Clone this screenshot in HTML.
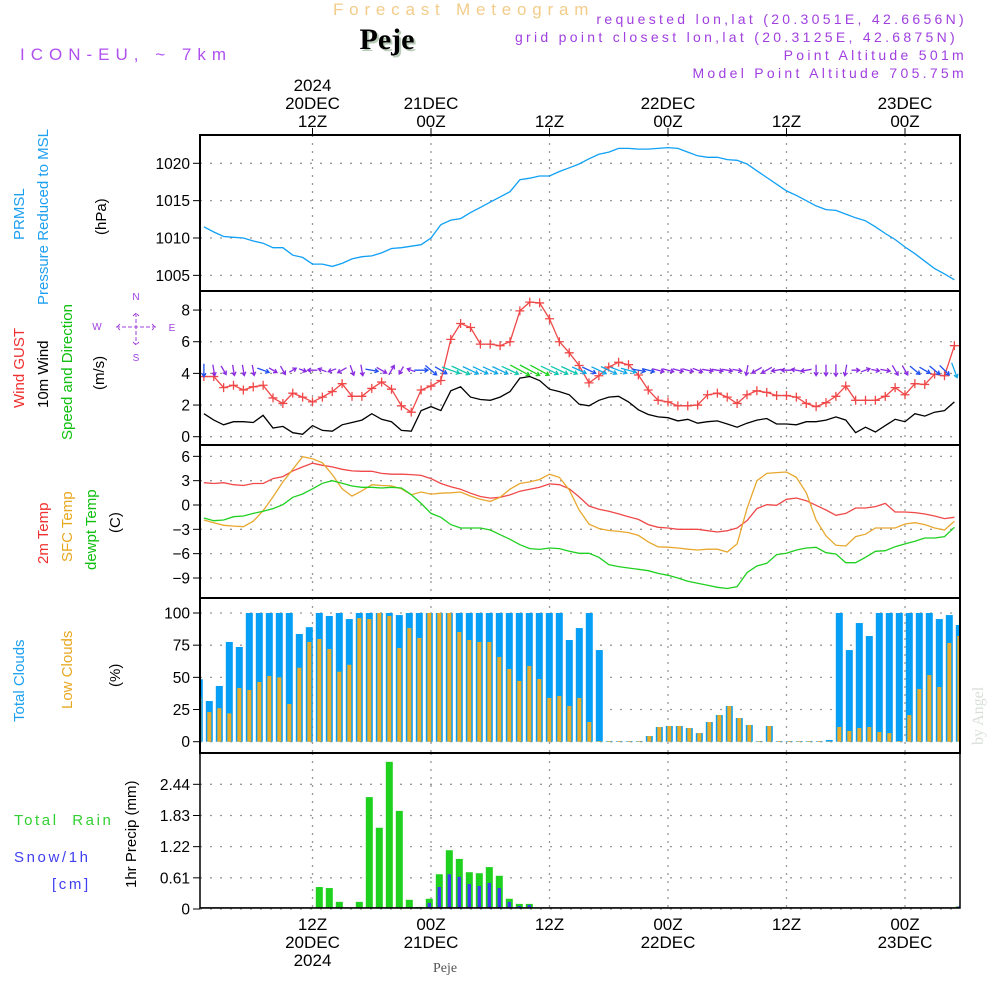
<!DOCTYPE html>
<html><head><meta charset="utf-8">
<style>
html,body{margin:0;padding:0;background:#fff;}
svg{display:block;font-family:"Liberation Sans",sans-serif;}
</style></head>
<body>
<svg id="chart" width="1000" height="1000" viewBox="0 0 1000 1000" xmlns="http://www.w3.org/2000/svg">
<rect x="0" y="0" width="1000" height="1000" fill="#fff"/>
<text x="333" y="15" font-size="17" fill="#f3cc8a" letter-spacing="5.8">Forecast Meteogram</text>
<text x="389" y="51" font-size="30" font-weight="bold" font-family="Liberation Serif,serif" fill="#b8ccb8" text-anchor="middle">Peje</text>
<text x="387" y="49" font-size="30" font-weight="bold" font-family="Liberation Serif,serif" fill="#000" text-anchor="middle">Peje</text>
<text x="20" y="60" font-size="17" fill="#b050f0" letter-spacing="6">ICON-EU, ~ 7km</text>
<g font-size="14" fill="#a040e0" text-anchor="end" letter-spacing="3.3">
<text x="967" y="24">requested lon,lat (20.3051E, 42.6656N)</text>
<text x="958" y="42">grid point closest lon,lat (20.3125E, 42.6875N)</text>
<text x="967" y="60">Point Altitude 501m</text>
<text x="967" y="78">Model Point Altitude 705.75m</text>
</g>
<g id="axes"></g>
<g id="marks"></g>
<g font-size="15">
<text transform="translate(24,240) rotate(-90)" fill="#1ea0f0">PRMSL</text>
<text transform="translate(48,305) rotate(-90)" fill="#1ea0f0">Pressure Reduced to MSL</text>
<text transform="translate(106,235) rotate(-90)" fill="#000">(hPa)</text>
<text transform="translate(24,408) rotate(-90)" fill="#f03030">Wind GUST</text>
<text transform="translate(48,408) rotate(-90)" fill="#000">10m Wind</text>
<text transform="translate(72,440) rotate(-90)" fill="#10c010">Speed and Direction</text>
<text transform="translate(104,390) rotate(-90)" fill="#000">(m/s)</text>
<text transform="translate(48,564) rotate(-90)" fill="#f03030">2m Temp</text>
<text transform="translate(72,562) rotate(-90)" fill="#e8a820">SFC Temp</text>
<text transform="translate(96,570) rotate(-90)" fill="#10c010">dewpt Temp</text>
<text transform="translate(120,533) rotate(-90)" fill="#000">(C)</text>
<text transform="translate(24,722) rotate(-90)" fill="#1ea0f0">Total Clouds</text>
<text transform="translate(72,709) rotate(-90)" fill="#e8a820">Low Clouds</text>
<text transform="translate(120,687) rotate(-90)" fill="#000">(%)</text>
<text transform="translate(136,888) rotate(-90)" fill="#000">1hr Precip (mm)</text>
<text x="14" y="825" fill="#30d030" letter-spacing="2.6" font-size="15" style="white-space:pre">Total  Rain</text>
<text x="14" y="862" fill="#4040f0" letter-spacing="2.6">Snow/1h</text>
<text x="52" y="889" fill="#4040f0" letter-spacing="2.6">[cm]</text>
</g>
<g fill="#a040e0" font-size="10" text-anchor="middle">
<text x="136" y="300">N</text>
<text x="97" y="330">W</text>
<text x="172" y="331">E</text>
<text x="136" y="361">S</text>
<path d="M116 327h40M136 313v32M120 324l-3 3 3 3M152 324l3 3-3 3M133 316l3-3 3 3M133 342l3 3 3-3" stroke="#a040e0" stroke-width="1" fill="none" stroke-dasharray="4 2"/>
</g>
<text transform="translate(983,745) rotate(-90)" font-family="Liberation Serif,serif" font-size="16" fill="#d8e0d8">by Angel</text>
<text x="445" y="972" font-family="Liberation Serif,serif" font-size="14" fill="#555" text-anchor="middle">Peje</text>
</svg>
<script>
const hours = [];
for (let h = 1; h <= 77; h++) hours.push(h);
const pressure = [1011.5,1010.8,1010.2,1010.1,1010.0,1009.6,1009.3,1008.7,1008.7,1007.7,1007.4,1006.5,1006.5,1006.2,1006.6,1007.2,1007.5,1007.6,1008.0,1008.6,1008.7,1008.9,1009.1,1010.0,1011.8,1012.4,1012.6,1013.4,1014.1,1014.8,1015.5,1016.2,1017.8,1018.0,1018.3,1018.3,1018.9,1019.4,1019.9,1020.6,1021.2,1021.5,1022.0,1022.0,1021.9,1021.9,1022.0,1022.1,1022.0,1021.5,1021.0,1020.8,1020.8,1020.5,1020.4,1019.9,1019.0,1018.1,1017.2,1016.3,1015.7,1015.0,1014.3,1013.8,1013.7,1013.2,1012.7,1012.3,1011.5,1010.6,1009.8,1008.8,1007.9,1006.9,1005.9,1005.2,1004.4];
const gust = [3.8,3.8,3.1,3.25,2.95,3.15,3.25,2.45,2.1,2.75,2.5,2.2,2.5,2.85,3.35,2.55,2.55,3.05,3.45,3.0,1.95,1.55,2.95,3.2,3.55,6.15,7.15,6.9,5.85,5.85,5.75,6.0,7.95,8.5,8.45,7.45,6.0,5.3,4.5,3.4,3.85,4.4,4.7,4.55,3.9,2.95,2.3,2.2,1.95,1.95,2.0,2.65,2.75,2.5,2.1,2.65,2.9,2.8,2.6,2.6,2.5,2.1,1.9,2.15,2.55,3.2,2.3,2.3,2.3,2.55,3.1,2.65,3.35,3.3,3.95,3.85,5.75];
const wind10m = [1.45,1.05,0.75,0.95,0.95,0.9,1.35,0.55,0.65,0.25,0.15,0.7,0.4,0.35,0.75,0.9,1.05,1.45,1.1,0.95,0.4,0.35,1.65,1.9,1.65,2.9,3.15,2.5,2.35,2.3,2.5,2.85,3.7,3.8,3.55,3.0,2.85,2.65,2.05,1.95,2.3,2.5,2.55,2.2,1.7,1.4,1.25,1.2,1.0,1.1,0.85,0.95,1.0,0.8,0.6,0.85,1.05,1.15,0.8,0.8,0.75,0.95,0.95,1.05,1.25,1.05,0.25,0.6,0.3,0.7,1.1,0.95,1.45,1.3,1.55,1.65,2.2];
const windDir = [90,80,60,80,80,80,20,30,60,330,20,180,200,160,150,70,80,10,30,300,120,200,0,40,30,20,25,25,25,25,25,25,28,28,28,25,25,25,25,25,25,25,20,15,10,15,15,15,15,15,20,10,10,10,10,100,150,150,170,180,190,170,90,90,90,100,0,340,10,10,60,60,40,30,40,45,70];
const temp2m = [2.75,2.65,2.75,2.5,2.4,2.65,2.65,3.25,3.5,4.2,4.7,5.15,4.9,4.7,4.4,4.2,4.15,4.15,3.9,3.8,3.8,3.75,3.65,3.25,2.65,2.25,1.95,1.45,1.05,0.85,0.95,1.25,1.7,1.95,2.2,2.6,2.5,2.0,1.0,-0.12,-0.53,-0.78,-1.1,-1.44,-1.77,-2.42,-2.75,-2.84,-3.0,-3.0,-3.0,-3.17,-3.33,-3.17,-2.84,-1.93,-0.45,0.04,-0.04,0.7,0.86,0.53,-0.04,-0.62,-1.27,-1.03,-0.37,-0.37,-0.2,0.2,-0.86,-0.86,-0.94,-1.11,-1.36,-1.68,-1.52];
const sfcTemp = [-1.85,-2.18,-2.5,-2.6,-2.67,-2.0,-0.7,1.0,2.85,4.4,5.95,5.7,5.2,3.75,2.0,1.1,1.75,2.5,2.4,2.35,2.0,1.27,1.6,1.35,1.45,1.5,1.6,1.1,0.7,0.45,0.95,1.95,2.65,2.85,3.15,3.8,3.4,1.85,-0.6,-2.35,-2.9,-3.15,-3.25,-3.4,-3.75,-4.55,-5.15,-5.2,-5.3,-5.45,-5.55,-5.45,-5.45,-5.8,-4.8,-0.45,3.0,3.9,4.0,4.07,3.4,1.5,-1.85,-3.8,-4.97,-5.05,-3.9,-3.6,-2.84,-2.84,-2.84,-2.34,-2.18,-2.42,-2.84,-3.08,-2.0];
const dewpt = [-1.6,-1.93,-1.85,-1.44,-1.36,-1.03,-0.78,-0.45,0.04,0.95,1.36,2.0,2.67,3.0,2.67,2.34,2.18,2.18,2.1,2.18,2.1,1.27,0.2,-1.03,-1.52,-2.42,-2.84,-2.84,-2.84,-3.08,-3.66,-4.23,-4.9,-5.38,-5.47,-5.3,-5.38,-5.7,-5.96,-5.96,-6.45,-7.36,-7.6,-7.77,-7.93,-8.1,-8.43,-8.67,-9.0,-9.41,-9.66,-9.9,-10.15,-10.3,-10.07,-8.34,-7.52,-7.19,-6.12,-5.96,-5.55,-5.3,-5.22,-5.88,-6.04,-7.11,-7.11,-6.45,-5.71,-5.63,-5.14,-4.8,-4.48,-4.07,-4.07,-3.9,-2.75];
const totalClouds = [48.5,31.6,43.3,77.5,73.6,100,100,100,100,100,83.7,89,100,97.7,100,95.3,100,100,100,100,98.4,100,100,100,100,100,100,100,100,100,100,100,100,100,100,100,100,79,88.3,100,71.2,0.5,0.5,0.5,0.5,4.4,11.4,12.2,12.2,10.6,6.7,15.3,20.7,27.7,18.4,13,0.5,12.2,0.5,0.5,0.5,0.5,0.5,1.3,100,71.2,92.2,82.1,100,100,100,100,100,100,95.3,98.4,90.7];
const lowClouds = [34.5,23,26,22,41.7,40.2,46.4,51,50,29.3,57.5,77.5,79.8,72,54.4,59.8,96,95.3,100,97.7,72.8,88.3,80.6,100,100,100,85.2,79,77.5,77.5,65.8,56.5,47.2,58.8,48.7,34,35.5,27.7,34,15.3,0.5,0.5,0.5,0.5,0.5,4.4,11.4,12.2,12.2,10.6,6.7,15.3,20.7,27.7,18.4,13,0.5,12.2,0.5,0.5,0.5,0.5,0.5,0.3,11.4,8.3,10.6,11.4,7.5,6.7,0.5,20.7,40.9,51.8,42.5,76.7,82.1];
const rain = [0,0,0,0,0,0,0,0,0,0,0,0,0.43,0.41,0.14,0.005,0.14,2.19,1.59,2.88,1.92,0.18,0.04,0.2,0.68,1.15,0.98,0.72,0.7,0.82,0.65,0.2,0.1,0.1,0,0,0,0,0,0,0,0,0,0,0,0,0,0,0,0,0,0,0,0,0,0,0,0,0,0,0,0,0,0,0,0,0,0,0,0,0,0.03,0,0,0,0,0.05];
const snow = [0,0,0,0,0,0,0,0,0,0,0,0,0,0,0,0,0,0,0,0,0,0,0,0.12,0.43,0.68,0.63,0.49,0.45,0.51,0.41,0.14,0.06,0.08,0,0,0,0,0,0,0,0,0,0,0,0,0,0,0,0,0,0,0,0,0,0,0,0,0,0,0,0,0,0,0,0,0,0,0,0,0,0,0,0,0,0,0.05];
const timeTicks = [12,24,36,48,60,72];
const topLabels = [["2024","20DEC","12Z"],["","21DEC","00Z"],["","","12Z"],["","22DEC","00Z"],["","","12Z"],["","23DEC","00Z"]];
const bottomLabels = [["12Z","20DEC","2024"],["00Z","21DEC",""],["12Z","",""],["00Z","22DEC",""],["12Z","",""],["00Z","23DEC",""]];
const presTicks = [1005,1010,1015,1020];
const windTicks = [0,2,4,6,8];
const tempTicks = [-9,-6,-3,0,3,6];
const cloudTicks = [0,25,50,75,100];
const precipTicks = [0,0.61,1.22,1.83,2.44];

const NS = "http://www.w3.org/2000/svg";
const L = 200, R = 960;
const xT = h => 431 + (h - 24) * 9.875;
const xB = h => 199.3 + (h - 1) * 10;
const yP = v => 163.3 + (1020 - v) * 7.47;
const yW = v => 436.7 - v * 15.83;
const yT = v => 505 - v * 8.11;
const yC = v => 741.7 - v * 1.287;
const yR = v => 909 - v * 51.1;
const panels = [[135,291],[291,445],[445,598],[598,753],[753,908]];

function mk(tag, attrs, parent) {
  const e = document.createElementNS(NS, tag);
  for (const k in attrs) e.setAttribute(k, attrs[k]);
  parent.appendChild(e);
  return e;
}
const axes = document.getElementById('axes');
const marks = document.getElementById('marks');

const defs = mk('defs', {}, axes);
const cp = mk('clipPath', {id: 'plotclip'}, defs);
mk('rect', {x: L, y: 135, width: R - L, height: 773}, cp);

function hgrid(ticks, yf, fmt, name) {
  ticks.forEach(t => {
    const y = yf(t);
    const g = mk('line', {x1: L, x2: R, y1: y, y2: y, stroke: '#999', 'stroke-width': 1.3, 'stroke-dasharray': '2 8'}, axes);
    
    
    mk('line', {x1: L - 7, x2: L, y1: y, y2: y, stroke: '#000', 'stroke-width': 1}, axes);
    const tx = mk('text', {x: L - 10, y: y + 5.5, 'font-size': 15.5, 'text-anchor': 'end', fill: '#000'}, axes);
    tx.textContent = fmt(t);
    
    
  });
}
hgrid(presTicks, yP, t => String(t), 'pressure');
hgrid(windTicks, yW, t => String(t), 'wind');
hgrid(tempTicks, yT, t => (t < 0 ? '\u2212' + (-t) : String(t)), 'temp');
hgrid(cloudTicks, yC, t => String(t), 'cloud');
hgrid(precipTicks, yR, t => (t === 0 ? '0' : t.toFixed(2)), 'precip');

timeTicks.forEach((h, i) => {
  const x = xT(h);
  panels.forEach(p => {
    const g = mk('line', {x1: x, x2: x, y1: p[0], y2: p[1], stroke: '#999', 'stroke-width': 1.3, 'stroke-dasharray': '2 6'}, axes);
    
    
  });
  mk('line', {x1: x, x2: x, y1: 128, y2: 135, stroke: '#000'}, axes);
  topLabels[i].forEach((s, j) => {
    if (!s) return;
    const t = mk('text', {x: x, y: 91 + j * 18, 'font-size': 17, 'text-anchor': 'middle', fill: '#000'}, axes);
    t.textContent = s;
    
    
  });
  bottomLabels[i].forEach((s, j) => {
    if (!s) return;
    const t = mk('text', {x: x, y: 930 + j * 18, 'font-size': 17, 'text-anchor': 'middle', fill: '#000'}, axes);
    t.textContent = s;
    
    
  });
});

const mg = mk('g', {'clip-path': 'url(#plotclip)'}, marks);

hours.forEach((h, i) => {
  const x = xB(h);
  const b = mk('rect', {x: x - 3.5, y: yC(totalClouds[i]), width: 7, height: yC(0) - yC(totalClouds[i]), fill: '#069ff5'}, mg);
  
  
  const o = mk('rect', {x: x - 2, y: yC(lowClouds[i]), width: 4, height: yC(0) - yC(lowClouds[i]), fill: '#e8ac2a'}, mg);
  
  
});
hours.forEach((h, i) => {
  const x = xB(h);
  if (rain[i] > 0) {
    const b = mk('rect', {x: x - 3.5, y: yR(rain[i]), width: 7, height: yR(0) - yR(rain[i]), fill: '#1fd01f'}, mg);
    
    
  }
  if (snow[i] > 0) {
    const s = mk('rect', {x: x - 1.7, y: yR(snow[i]), width: 3.4, height: yR(0) - yR(snow[i]), fill: '#3c3cf5'}, mg);
    
    
  }
});
mk('line', {x1: L, x2: R, y1: 908, y2: 908, stroke: '#000', 'stroke-width': 1.5}, mg);

function line(arr, yf, color, name, w) {
  const pts = hours.map((h, i) => xT(h).toFixed(1) + ',' + yf(arr[i]).toFixed(1)).join(' ');
  const p = mk('polyline', {points: pts, fill: 'none', stroke: color, 'stroke-width': w || 1.3}, mg);
  
  
}
line(pressure, yP, '#10a0f5', 'pressure-line');
line(wind10m, yW, '#000', 'wind-10m-line');
line(gust, yW, '#f04848', 'gust-line');
line(temp2m, yT, '#f04848', 'temp-2m-line');
line(sfcTemp, yT, '#e8a830', 'sfc-temp-line');
line(dewpt, yT, '#20d020', 'dewpt-line');

hours.forEach((h, i) => {
  const x = xT(h), y = yW(gust[i]);
  const m = mk('path', {d: `M${x-4.5} ${y}h9M${x} ${y-4.5}v9`, stroke: '#f04848', 'stroke-width': 1.3, fill: 'none'}, mg);
  
  
});
function windColor(s) {
  if (s >= 3.4) return '#20d020';
  if (s >= 2.6) return '#10c8b0';
  if (s >= 2.0) return '#10a8e8';
  if (s >= 1.3) return '#2050f0';
  return '#8a2be2';
}
hours.forEach((h, i) => {
  const s = wind10m[i];
  const len = 7 + s * 4;
  const a = windDir[i] * Math.PI / 180;
  const cx = xT(h), cy = yW(4.2);
  const dx = Math.cos(a) * len, dy = Math.sin(a) * len;
  const x0 = cx - dx / 2, y0 = cy - dy / 2, x1 = cx + dx / 2, y1 = cy + dy / 2;
  const hl = 4, a1 = a + Math.PI * 0.82, a2 = a - Math.PI * 0.82;
  const d = `M${x0.toFixed(1)} ${y0.toFixed(1)}L${x1.toFixed(1)} ${y1.toFixed(1)}M${(x1+Math.cos(a1)*hl).toFixed(1)} ${(y1+Math.sin(a1)*hl).toFixed(1)}L${x1.toFixed(1)} ${y1.toFixed(1)}L${(x1+Math.cos(a2)*hl).toFixed(1)} ${(y1+Math.sin(a2)*hl).toFixed(1)}`;
  const ar = mk('path', {d: d, stroke: windColor(s), 'stroke-width': 1.3, fill: 'none'}, mg);
  
  
});

panels.forEach((p, i) => {
  const r = mk('rect', {x: L, y: p[0], width: R - L, height: p[1] - p[0], fill: 'none', stroke: '#000', 'stroke-width': i === 4 ? 1.5 : 2}, marks);
  
  
});
</script>
</body></html>
